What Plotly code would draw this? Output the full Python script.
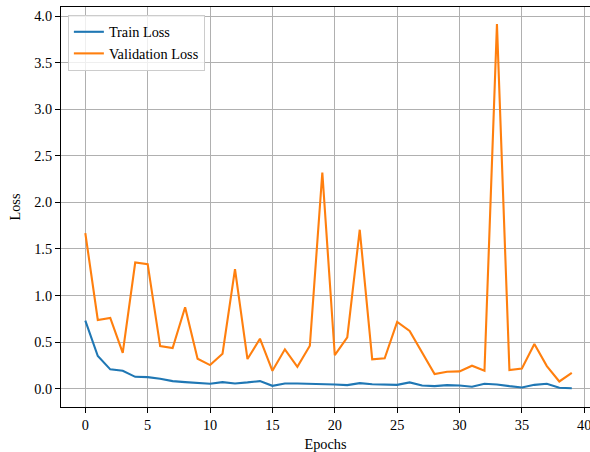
import plotly.graph_objects as go

epochs = list(range(40))
train_loss = [0.73, 0.35, 0.207, 0.192, 0.127, 0.124, 0.106, 0.081, 0.07, 0.059,
              0.052, 0.07, 0.056, 0.067, 0.081, 0.03, 0.056, 0.056, 0.055, 0.048,
              0.045, 0.038, 0.059, 0.048, 0.045, 0.041, 0.067, 0.034, 0.027, 0.038,
              0.034, 0.02, 0.052, 0.045, 0.027, 0.013, 0.041, 0.052, 0.009, 0.005]
val_loss = [1.67, 0.737, 0.76, 0.385, 1.354, 1.337, 0.457, 0.436, 0.874, 0.321,
            0.253, 0.375, 1.283, 0.318, 0.536, 0.192, 0.422, 0.235, 0.461, 2.32,
            0.36, 0.55, 1.706, 0.314, 0.325, 0.716, 0.619, 0.385, 0.156, 0.181,
            0.185, 0.246, 0.192, 3.913, 0.199, 0.217, 0.479, 0.242, 0.077, 0.17]
x_ticks = [0, 5, 10, 15, 20, 25, 30, 35, 40]
y_ticks = [0.0, 0.5, 1.0, 1.5, 2.0, 2.5, 3.0, 3.5, 4.0]

FONT = "Liberation Serif, Times New Roman, serif"

fig = go.Figure()
fig.add_trace(go.Scatter(x=epochs, y=train_loss, mode="lines", name="Train Loss",
                         line=dict(color="#1f77b4", width=2.1)))
fig.add_trace(go.Scatter(x=epochs, y=val_loss, mode="lines", name="Validation Loss",
                         line=dict(color="#ff7f0e", width=2.1)))

axis_common = dict(showgrid=True, gridcolor="#b0b0b0", gridwidth=1.1,
                   showline=True, linecolor="black", linewidth=1.1, mirror=True,
                   ticks="outside", ticklen=5, tickwidth=1.1, tickcolor="black",
                   zeroline=False, ticklabeloverflow="allow",
                   tickfont=dict(family=FONT, size=14.3, color="black"))

fig.update_xaxes(range=[-1.95, 40.46], tickvals=x_ticks,
                 ticktext=[str(v) for v in x_ticks],
                 title=dict(text="Epochs", font=dict(family=FONT, size=14.3, color="black"), standoff=6),
                 **axis_common)
fig.update_yaxes(range=[-0.197, 4.097], tickvals=y_ticks,
                 ticktext=[f"{v:.1f}" for v in y_ticks],
                 title=dict(text="Loss", font=dict(family=FONT, size=14.3, color="black"), standoff=10),
                 **axis_common)

fig.update_layout(
    width=590, height=452,
    margin=dict(l=61, r=0, t=7, b=45),
    plot_bgcolor="white", paper_bgcolor="white",
    font=dict(family=FONT, size=14.3, color="black"),
    legend=dict(x=0.013, y=0.98, xanchor="left", yanchor="top",
                bgcolor="rgba(255,255,255,0.8)", bordercolor="#cccccc", borderwidth=1,
                font=dict(family=FONT, size=14.3, color="black"),
                tracegroupgap=0, itemwidth=30),
    showlegend=True,
)

fig.write_html("out.html")
